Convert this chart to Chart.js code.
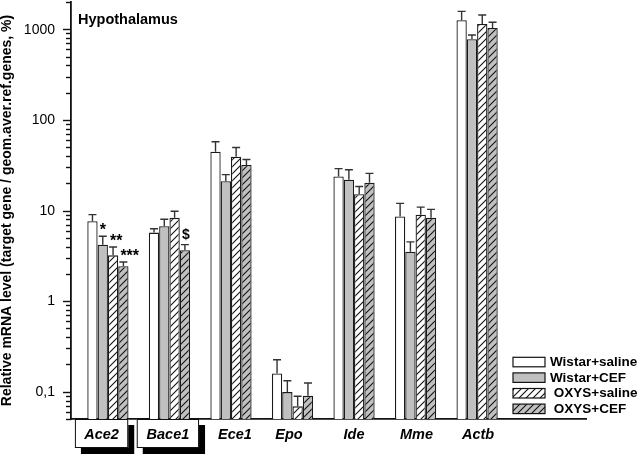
<!DOCTYPE html>
<html><head><meta charset="utf-8">
<script src="https://cdn.jsdelivr.net/npm/chart.js@4"></script>
<style>html,body{margin:0;padding:0;background:#fff}#wrap{width:638px;height:456px}</style>
</head><body><div id="wrap"><canvas id="c" width="638" height="456"></canvas></div>
<script>
// ---------- data ----------
const genes = ['Ace2', 'Bace1', 'Ece1', 'Epo', 'Ide', 'Mme', 'Actb'];
const seriesNames = ['Wistar+saline', 'Wistar+CEF', ' OXYS+saline', ' OXYS+CEF'];
const wistarSaline    = [7.6, 5.7, 44.5, 0.159, 23.8, 8.6, 1256];
const wistarSalineErr = [9.0, 6.3, 57.3, 0.225, 29.0, 12.0, 1578];
const wistarCEF       = [4.2, 6.7, 21.0, 0.099, 21.9, 3.5, 776];
const wistarCEFErr    = [5.2, 8.0, 24.9, 0.132, 28.2, 4.5, 865];
const oxysSaline      = [3.2, 8.3, 39.2, 0.069, 15.1, 9.0, 1143];
const oxysSalineErr   = [3.95, 9.8, 49.6, 0.089, 18.4, 10.9, 1436];
const oxysCEF         = [2.43, 3.64, 31.8, 0.090, 20.2, 8.3, 1033];
const oxysCEFErr      = [2.7, 4.2, 36.6, 0.125, 25.7, 10.3, 1194];
const yTickValues = [0.1, 1, 10, 100, 1000];
const yTickLabels = ['0,1', '1', '10', '100', '1000'];
const significance = [
  {series: 1, gene: 'Ace2', text: '*'},
  {series: 2, gene: 'Ace2', text: '**'},
  {series: 3, gene: 'Ace2', text: '***'},
  {series: 3, gene: 'Bace1', text: '$'}
];
const boxedGenes = ['Ace2', 'Bace1'];
const panelTitle = 'Hypothalamus';
const yTitle = 'Relative mRNA level (target gene / geom.aver.ref.genes, %)';

// ---------- styles ----------
const FONT = "'Liberation Sans', Arial, Helvetica, sans-serif";
const INK = '#111';
const GRAY = '#c0c0c0';
const boxExtent = {Ace2: [-33, 20.3], Bace1: [-32.7, 29.6]};
const labelNudge = {Ece1: 4, Epo: -3.5, Ide: 0, Mme: 1, Actb: 1};
const markStyle = {'*': {size: 16, dy: -1}, '$': {size: 14, dy: -6}};

function hatch(bg) {
  const s = 7, c = document.createElement('canvas');
  c.width = s; c.height = s;
  const g = c.getContext('2d');
  g.fillStyle = bg; g.fillRect(0, 0, s, s);
  g.strokeStyle = INK; g.lineWidth = 1.1;
  g.beginPath();
  g.moveTo(-1, s + 1); g.lineTo(s + 1, -1);
  g.moveTo(-1, 1); g.lineTo(1, -1);
  g.moveTo(s - 1, s + 1); g.lineTo(s + 1, s - 1);
  g.stroke();
  return g.createPattern(c, 'repeat');
}

const seriesValues = [wistarSaline, wistarCEF, oxysSaline, oxysCEF];
const seriesErr = [wistarSalineErr, wistarCEFErr, oxysSalineErr, oxysCEFErr];
const fills = ['#ffffff', GRAY, hatch('#ffffff'), hatch(GRAY)];

const datasets = seriesValues.map((vals, d) => ({
  label: seriesNames[d],
  data: vals.map((v, i) => ({x: i + 1, y: v})),
  backgroundColor: fills[d],
  borderColor: '#1a1a1a',
  borderWidth: 1.3,
  categoryPercentage: 0.67,
  barPercentage: 1.0
}));

const decor = {
  id: 'decor',
  afterDatasetsDraw(chart) {
    const ctx = chart.ctx, ys = chart.scales.y;
    ctx.save();
    ctx.strokeStyle = '#333'; ctx.lineWidth = 1.4;
    seriesErr.forEach((arr, d) => {
      chart.getDatasetMeta(d).data.forEach((el, i) => {
        const yt = ys.getPixelForValue(arr[i]);
        ctx.beginPath();
        ctx.moveTo(el.x, el.y); ctx.lineTo(el.x, yt);
        ctx.moveTo(el.x - 4, yt); ctx.lineTo(el.x + 4, yt);
        ctx.stroke();
      });
    });
    ctx.restore();
  },
  afterDraw(chart) {
    const ctx = chart.ctx, ys = chart.scales.y, xs = chart.scales.x;
    const area = chart.chartArea;
    ctx.save();
    ctx.strokeStyle = INK; ctx.lineWidth = 1.4;
    const x0 = area.left;
    for (let k = Math.floor(Math.log10(ys.min)); k <= Math.ceil(Math.log10(ys.max)); k++) {
      for (let m = 1; m <= 9; m++) {
        const v = m * Math.pow(10, k);
        if (v < ys.min * 0.999 || v > ys.max * 1.001) continue;
        const py = Math.round(ys.getPixelForValue(v)) + 0.5;
        const len = m === 1 ? 8 : 5;
        ctx.beginPath(); ctx.moveTo(x0 - len, py); ctx.lineTo(x0, py); ctx.stroke();
      }
    }
    ctx.fillStyle = '#000';
    ctx.font = '14px ' + FONT;
    ctx.textAlign = 'right'; ctx.textBaseline = 'middle';
    yTickValues.forEach((v, i) => {
      ctx.fillText(yTickLabels[i], x0 - 16, ys.getPixelForValue(v) + 0.5);
    });
    ctx.font = 'bold 14.5px ' + FONT;
    ctx.textAlign = 'left'; ctx.textBaseline = 'alphabetic';
    ctx.fillText(panelTitle, area.left + 7, 24);
    significance.forEach(s => {
      const gi = genes.indexOf(s.gene);
      const el = chart.getDatasetMeta(s.series).data[gi];
      const yt = ys.getPixelForValue(seriesErr[s.series][gi]);
      const st = markStyle[s.text[0]];
      ctx.font = 'bold ' + st.size + 'px ' + FONT;
      ctx.fillText(s.text, el.x - 3, yt + st.dy);
    });
    const lx = 513, ly = 357.3, pitch = 15.6, bw = 32, bh = 9.5;
    ctx.font = 'bold 13.5px ' + FONT;
    ctx.textBaseline = 'middle';
    seriesNames.forEach((n, d) => {
      const top = ly + d * pitch;
      ctx.fillStyle = fills[d];
      ctx.fillRect(lx, top, bw, bh);
      ctx.strokeStyle = INK; ctx.lineWidth = 1.2;
      ctx.strokeRect(lx, top, bw, bh);
      ctx.fillStyle = '#000';
      ctx.fillText(n, lx + 37, top + bh / 2 + 0.5);
    });
    ctx.font = 'italic bold 14.5px ' + FONT;
    ctx.textAlign = 'center'; ctx.textBaseline = 'alphabetic';
    const axisY = area.bottom;
    genes.forEach((g, i) => {
      const px = xs.getPixelForValue(i + 1);
      let tx = px + (labelNudge[g] || 0);
      if (boxedGenes.includes(g)) {
        const [a, b] = boxExtent[g];
        const l = px + a, r = px + b, t = axisY, btm = axisY + 29;
        ctx.fillStyle = '#000';
        ctx.fillRect(l + 6, t + 6, r - l, btm - t);
        ctx.fillStyle = '#fff';
        ctx.fillRect(l, t, r - l, btm - t);
        ctx.strokeStyle = INK; ctx.lineWidth = 1;
        ctx.strokeRect(l + 0.5, t + 0.5, r - l - 1, btm - t - 1);
        tx = (l + r) / 2;
      }
      ctx.fillStyle = '#000';
      ctx.fillText(g, tx, axisY + 20);
    });
    ctx.restore();
  }
};

new Chart(document.getElementById('c'), {
  type: 'bar',
  data: {datasets},
  plugins: [decor],
  options: {
    responsive: false,
    animation: false,
    devicePixelRatio: 1,
    layout: {padding: {top: 2, right: 52, bottom: 0, left: 0}},
    plugins: {legend: {display: false}, tooltip: {enabled: false}, title: {display: false}},
    scales: {
      x: {
        type: 'linear',
        min: 0.4,
        max: 8.77,
        bounds: 'data',
        offset: false,
        position: 'bottom',
        grid: {display: false, offset: false},
        border: {display: true, color: INK, width: 1.8},
        ticks: {display: false},
        afterBuildTicks: s => { s.ticks = genes.map((g, i) => ({value: i + 1})); },
        afterFit: s => { s.height = 37; s.paddingLeft = 0; s.paddingRight = 0; }
      },
      y: {
        type: 'logarithmic',
        min: 0.05,
        max: 2000,
        bounds: 'data',
        offset: false,
        grid: {display: false},
        border: {display: true, color: INK, width: 1.8},
        ticks: {display: false, autoSkip: false, padding: 0},
        title: {
          display: true,
          text: yTitle,
          color: '#000',
          padding: 0,
          font: {family: FONT, size: 14, weight: 'bold', lineHeight: 1}
        },
        afterFit: s => { s.width = 71; s.paddingTop = 0; s.paddingBottom = 0; }
      }
    }
  }
});
</script>
</body></html>
